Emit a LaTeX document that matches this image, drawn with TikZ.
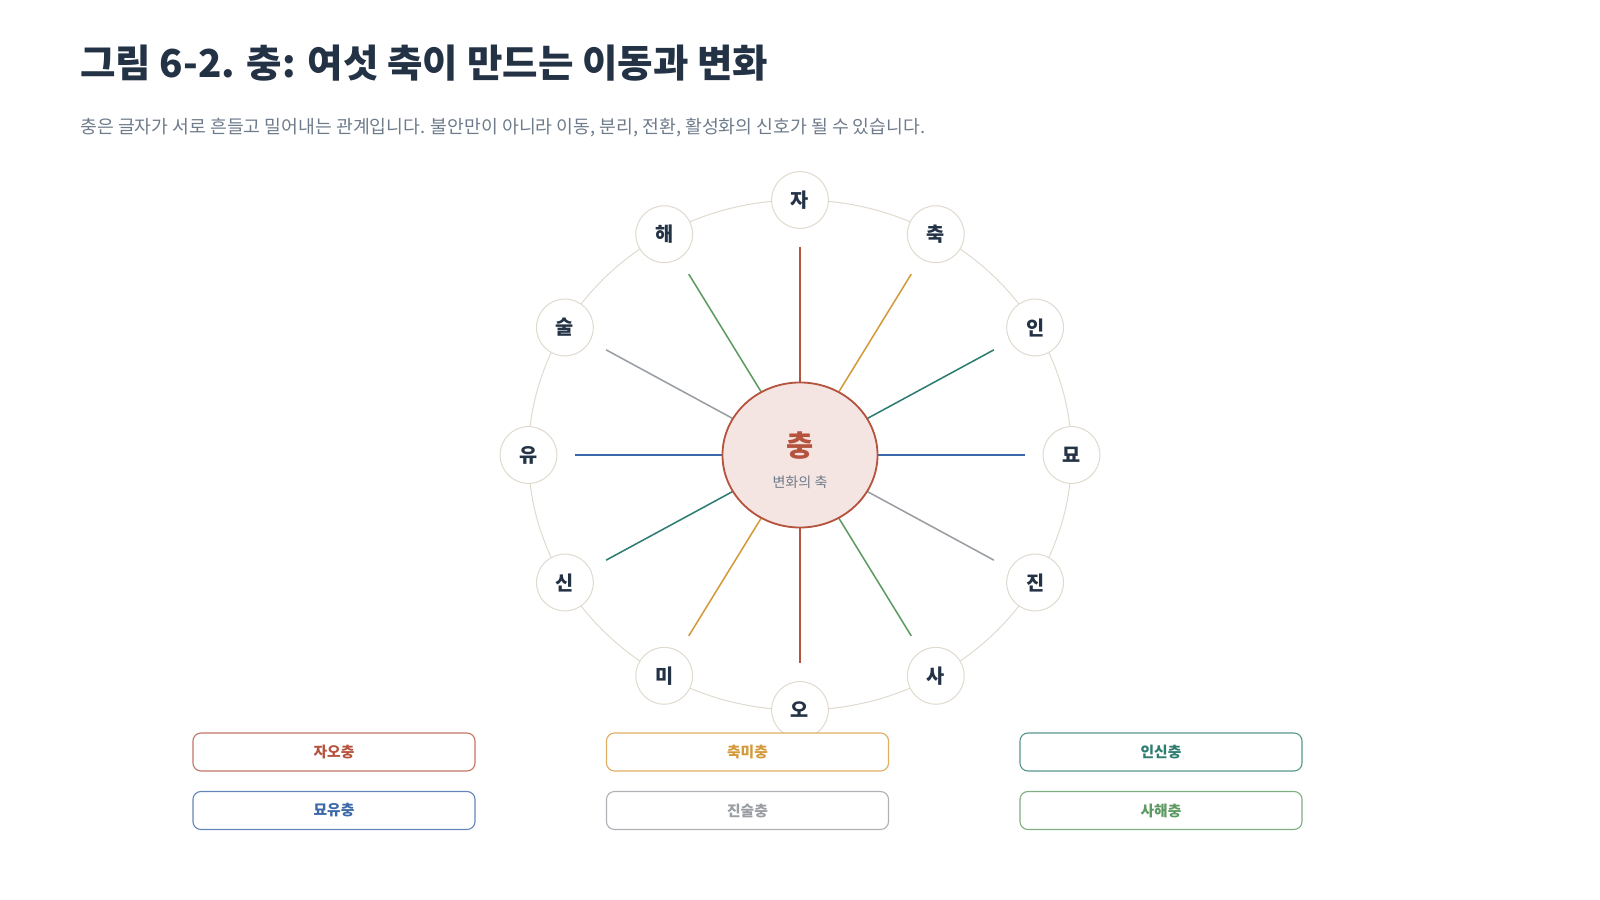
\documentclass[tikz,border=0pt]{standalone}
\usepackage{fontspec}
\setmainfont{Noto Sans CJK KR}
\usetikzlibrary{shapes.geometric,positioning}
\definecolor{ink}{HTML}{233245}
\definecolor{subgray}{HTML}{6E7B8B}
\definecolor{ringline}{HTML}{E0D9CE}
\definecolor{chred}{HTML}{B5533E}
\definecolor{chfill}{HTML}{F5E5E2}
\definecolor{chgold}{HTML}{D49A3A}
\definecolor{chteal}{HTML}{2E7D70}
\definecolor{chblue}{HTML}{3D68A8}
\definecolor{chgray}{HTML}{9A9EA3}
\definecolor{chgreen}{HTML}{5E9A62}

\begin{document}
\begin{tikzpicture}[x=0.025cm, y=-0.025cm,
  branch/.style={circle, draw=ringline, line width=0.7pt, fill=white, minimum size=1.42cm, inner sep=0pt,
    font=\fontsize{14}{16}\selectfont\bfseries, text=ink},
  axisline/.style={line width=1.1pt, draw=#1, shorten <=0.45cm, shorten >=0.45cm},
  pairbox/.style={rectangle, draw=#1!80, line width=0.8pt, fill=white, rounded corners=0.2cm,
    minimum width=7.05cm, minimum height=0.95cm, font=\fontsize{10.5}{12}\selectfont\bfseries, text=#1}
]
  \useasboundingbox (0,0) rectangle (1600,900);

  % heading
  \node[anchor=west, inner sep=0pt, font=\fontsize{27.4}{31}\selectfont\bfseries, text=ink] (title) at (80,63)
    {그림 6-2. 충: 여섯 축이 만드는 이동과 변화};
  \node[anchor=west, inner sep=0pt, font=\fontsize{13}{15}\selectfont, text=subgray] (subtitle) at (80,128)
    {충은 글자가 서로 흔들고 밀어내는 관계입니다. 불안만이 아니라 이동, 분리, 전환, 활성화의 신호가 될 수 있습니다.};

  % ring of branches
  \draw[ringline, line width=0.7pt] (800,455) ellipse [x radius=6.7875cm, y radius=6.375cm];
  \node[branch] (ja)  at (800,200)      {자};
  \node[branch] (chuk) at (935.8,234.2) {축};
  \node[branch] (in)  at (1035.1,327.5) {인};
  \node[branch] (myo) at (1071.5,455)   {묘};
  \node[branch] (jin) at (1035.1,582.5) {진};
  \node[branch] (sa)  at (935.8,675.8)  {사};
  \node[branch] (o)   at (800,710)      {오};
  \node[branch] (mi)  at (664.2,675.8)  {미};
  \node[branch] (sin) at (564.9,582.5)  {신};
  \node[branch] (yu)  at (528.5,455)    {유};
  \node[branch] (sul) at (564.9,327.5)  {술};
  \node[branch] (hae) at (664.2,234.2)  {해};

  % six clash axes
  \draw[axisline=chred]   (ja) -- (o);
  \draw[axisline=chgold]  (chuk) -- (mi);
  \draw[axisline=chteal]  (in) -- (sin);
  \draw[axisline=chblue]  (myo) -- (yu);
  \draw[axisline=chgray]  (jin) -- (sul);
  \draw[axisline=chgreen] (sa) -- (hae);

  % centre
  \node[ellipse, draw=chred, line width=1.3pt, fill=chfill, minimum width=3.875cm, minimum height=3.625cm, inner sep=0pt] (core) at (800,455) {};
  \node[font=\fontsize{21}{24}\selectfont\bfseries, text=chred] (coretitle) at (800,446) {충};
  \node[font=\fontsize{10}{12}\selectfont, text=subgray] (coresub) at (800,482) {변화의 축};

  % legend
  \node[pairbox=chred]   (jao)    at (334,752)    {자오충};
  \node[pairbox=chgold]  (chukmi) at (747.5,752)  {축미충};
  \node[pairbox=chteal]  (insin)  at (1161,752)   {인신충};
  \node[pairbox=chblue]  (myoyu)  at (334,810.5)  {묘유충};
  \node[pairbox=chgray]  (jinsul) at (747.5,810.5) {진술충};
  \node[pairbox=chgreen] (sahae)  at (1161,810.5) {사해충};
\end{tikzpicture}
\end{document}
